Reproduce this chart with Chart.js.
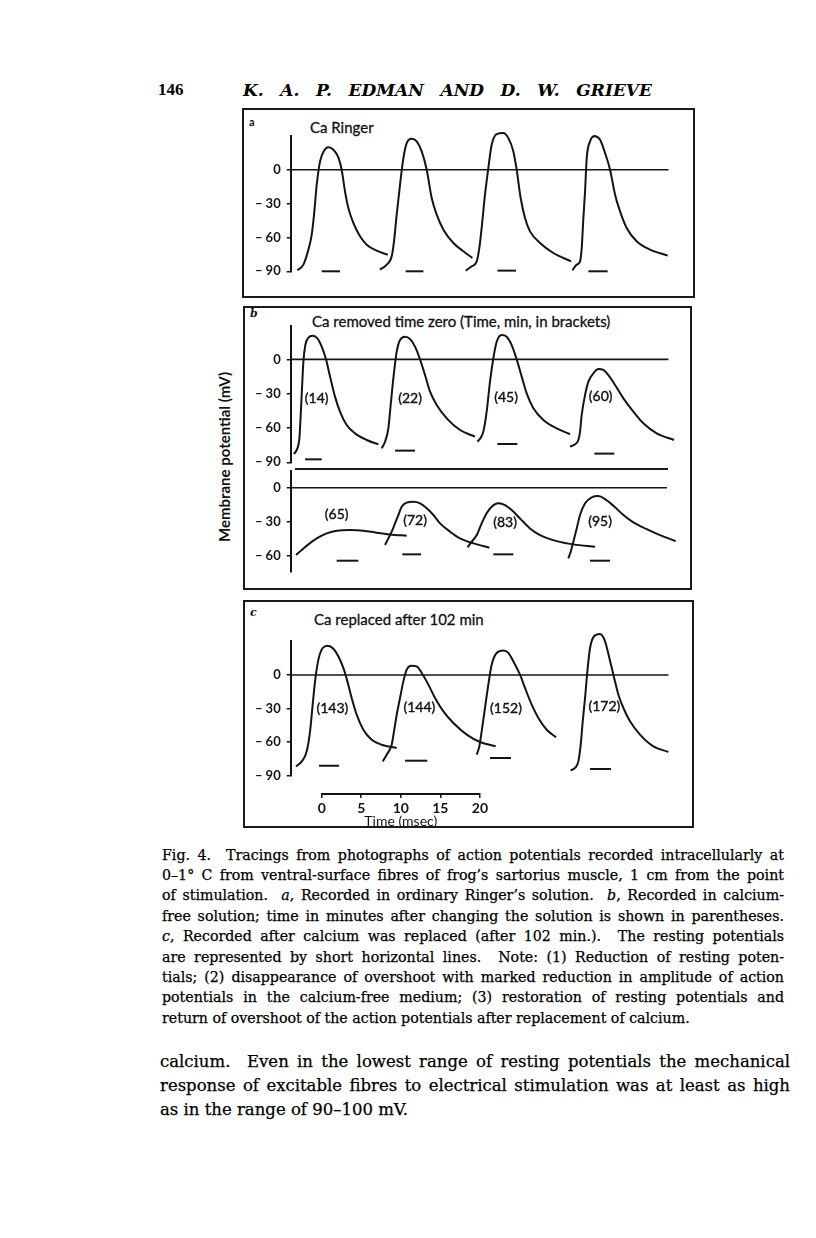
<!DOCTYPE html>
<html><head><meta charset="utf-8">
<script src="https://cdn.jsdelivr.net/npm/chart.js@4.4.1/dist/chart.umd.min.js"></script>
<style>
html,body{margin:0;padding:0;background:#fff;}
#page{position:relative;width:816px;height:1238px;overflow:hidden;background:#fff;color:#111;}
.box{position:absolute;border:2px solid #1a1a1a;box-sizing:border-box;}
canvas{position:absolute;}
.t{position:absolute;white-space:nowrap;}
.sans{font-family:Lato,'Open Sans',sans-serif;-webkit-text-stroke:0.3px #111;}
.serif{font-family:'DejaVu Serif','Liberation Serif',serif;}
.line{position:absolute;white-space:nowrap;font-family:'DejaVu Serif','Liberation Serif',serif;color:#000;-webkit-text-stroke:0.25px #000;}
</style></head>
<body><div id="page">
<div class="t" style="left:158px;top:79px;font-family:'Liberation Serif',serif;font-size:17px;line-height:22px;font-weight:bold;color:#000;">146</div>
<div class="line" id="hdr" style="left:243px;top:79px;font-size:17px;line-height:22px;font-weight:bold;font-style:italic;-webkit-text-stroke:0;">K. A. P. EDMAN AND D. W. GRIEVE</div>

<div class="box" style="left:242px;top:108px;width:453px;height:190px;"></div>
<div class="box" style="left:243px;top:306px;width:449px;height:284px;"></div>
<div class="box" style="left:243px;top:600px;width:451px;height:228px;"></div>
<div style="position:absolute;left:295px;top:468px;width:373px;height:2px;background:#1a1a1a;"></div>

<div class="t" style="left:249px;top:115px;font-family:Lato,sans-serif;font-size:11px;line-height:14px;font-weight:bold;">a</div>
<div class="t serif" style="left:250px;top:307px;font-size:11px;line-height:14px;font-weight:bold;font-style:italic;">b</div>
<div class="t serif" style="left:250px;top:606px;font-size:11px;line-height:14px;font-weight:bold;font-style:italic;">c</div>

<div class="t sans" style="left:310px;top:118px;font-size:15px;line-height:18px;">Ca Ringer</div>
<div class="t sans" style="left:312px;top:312px;font-size:15px;line-height:18px;">Ca removed time zero (Time, min, in brackets)</div>
<div class="t sans" style="left:314px;top:610px;font-size:15px;line-height:18px;">Ca replaced after 102 min</div>

<div class="t sans" style="left:224px;top:457px;font-size:15px;line-height:18px;font-weight:bold;-webkit-text-stroke:0;transform:translate(-50%,-50%) rotate(-90deg);">Membrane potential (mV)</div>

<canvas id="cA"></canvas>
<canvas id="cB1"></canvas>
<canvas id="cB2"></canvas>
<canvas id="cC"></canvas>
<canvas id="cT"></canvas>
</div>
<script>
// ---------------- DATA (time in ms, membrane potential in mV) ----------------
const yTicksFull = [0, -30, -60, -90];
const yTicksLower = [0, -30, -60];
const timeTicks = [0, 5, 10, 15, 20];

// Panel a: Ca Ringer
const aTrace1 = [[0.92,-89.1],[1.75,-84.1],[2.44,-70.8],[2.90,-57.5],[3.22,-39.8],[3.59,-13.3],[4.05,7.4],[4.60,16.8],[5.20,19.8],[5.89,17.7],[6.57,10.9],[7.03,0],[7.49,-19.2],[7.95,-33.9],[8.64,-47.2],[9.56,-59.0],[10.48,-66.4],[11.86,-71.7],[13.38,-75.3]];
const aTrace2 = [[12.32,-88.5],[13.24,-84.1],[13.93,-76.7],[14.25,-63.4],[14.62,-39.8],[15.08,-13.3],[15.54,10.3],[16.00,23.6],[16.69,27.4],[17.38,25.1],[18.07,16.2],[18.76,0],[19.45,-25.1],[20.14,-39.8],[21.06,-53.1],[22.44,-64.9],[23.82,-72.3],[25.06,-78.2]];
const aTrace3 = [[24.14,-89.4],[24.97,-85.6],[25.66,-81.2],[26.02,-69.3],[26.34,-51.6],[26.80,-22.1],[27.26,1.5],[27.72,22.1],[28.41,31.6],[29.33,32.5],[30.02,28.0],[30.71,16.2],[31.17,0],[31.72,-25.1],[32.32,-42.8],[33.01,-54.6],[34.39,-64.9],[36.23,-73.8],[38.67,-81.2]];
const aTrace4 = [[38.85,-89.1],[39.45,-84.1],[39.91,-81.2],[40.14,-69.3],[40.37,-42.8],[40.60,-19.2],[40.83,10.3],[41.29,25.1],[41.89,29.8],[42.67,26.6],[43.36,14.8],[44.05,0],[44.74,-22.1],[45.43,-36.9],[46.34,-51.6],[47.72,-63.4],[49.56,-70.8],[52.00,-76.1]];
const aRest = [[4.28,6.80,-90],[15.86,18.30,-90],[28.51,31.08,-89.4],[41.06,43.72,-90]];

// Panel b, upper row: Ca removed (14, 22, 45, 60 min)
const b1Trace1 = [[0.46,-82.7],[0.92,-77.8],[1.20,-69.0],[1.38,-48.6],[1.56,-25.3],[1.75,-2.0],[2.02,12.5],[2.44,18.9],[3.03,20.7],[3.68,18.4],[4.28,11.1],[4.87,0],[5.43,-15.1],[6.11,-32.6],[6.80,-45.7],[7.72,-57.4],[8.87,-64.7],[10.48,-70.5],[12.09,-74.3]];
const b1Trace2 = [[12.55,-77.8],[13.01,-72.0],[13.47,-60.3],[13.79,-39.9],[14.16,-16.6],[14.62,6.7],[15.08,16.9],[15.77,19.8],[16.46,17.8],[17.15,11.1],[17.84,0],[18.53,-13.7],[19.22,-28.3],[20.14,-39.9],[21.52,-51.6],[23.36,-61.8],[25.43,-67.6]];
const b1Trace3 = [[25.75,-72.0],[26.21,-68.5],[26.57,-63.2],[27.03,-45.7],[27.49,-19.5],[27.95,0.9],[28.41,15.4],[29.10,21.3],[29.79,19.8],[30.48,12.5],[31.17,0],[31.86,-15.1],[32.55,-29.7],[33.47,-42.8],[34.85,-53.0],[36.69,-60.3],[38.53,-65.5]];
const b1Trace4 = [[38.53,-76.3],[39.22,-74.3],[39.68,-70.5],[39.91,-63.2],[40.14,-48.6],[40.60,-31.2],[41.06,-19.5],[41.75,-12.2],[42.44,-8.4],[43.13,-9.3],[43.82,-13.7],[44.74,-22.4],[45.89,-34.1],[47.26,-45.7],[48.64,-55.9],[50.48,-64.7],[52.87,-70.5]];
const b1Rest = [[1.98,4.28,-87.4],[14.39,17.15,-79.8],[28.50,31.26,-74.0],[41.89,44.64,-82.4]];
const b1Labels = ['(14)','(22)','(45)','(60)'];
const b1LabelPos = [[3.59,-34.1],[16.46,-34.1],[29.70,-33.5],[42.76,-32.6]];

// Panel b, lower row: Ca removed (65, 72, 83, 95 min)
const b2Trace1 = [[0.74,-59.4],[1.52,-55.0],[2.44,-50.0],[3.59,-44.7],[4.97,-40.3],[6.34,-37.9],[8.18,-37.4],[10.02,-37.9],[11.86,-39.7],[13.70,-41.2],[16.00,-42.4]];
const b2Trace2 = [[13.01,-50.6],[13.47,-44.7],[13.93,-38.8],[14.39,-31.5],[14.85,-24.1],[15.31,-16.8],[16.00,-13.2],[16.92,-12.4],[17.84,-13.8],[18.76,-18.2],[19.68,-24.1],[20.60,-31.5],[21.98,-38.8],[23.36,-44.7],[25.20,-49.1],[27.40,-52.9]];
const b2Trace3 = [[24.41,-52.6],[24.97,-47.6],[25.66,-41.8],[26.34,-31.5],[27.03,-22.6],[27.72,-16.8],[28.64,-13.8],[29.56,-15.3],[30.48,-19.7],[31.63,-27.1],[33.01,-35.9],[34.39,-41.8],[36.69,-47.1],[38.99,-50.0],[41.98,-52.1]];
const b2Trace4 = [[38.30,-62.3],[38.62,-56.5],[38.99,-47.6],[39.45,-35.9],[39.91,-24.1],[40.60,-13.8],[41.52,-8.5],[42.44,-7.4],[43.36,-10.0],[44.51,-15.9],[45.89,-24.1],[47.26,-30.6],[49.10,-36.5],[50.94,-41.8],[53.10,-47.1]];
const b2Rest = [[6.34,9.33,-64.4],[15.40,17.98,-58.8],[27.95,30.71,-58.8],[41.29,44.05,-64.4]];
const b2Labels = ['(65)','(72)','(83)','(95)'];
const b2LabelPos = [[6.34,-23.5],[17.15,-28.5],[29.56,-30.6],[42.67,-29.4]];

// Panel c: Ca replaced (143, 144, 152, 172 min)
const cTrace1 = [[0.74,-81.7],[1.52,-77.2],[2.21,-68.2],[2.67,-50.4],[3.03,-26.5],[3.36,-5.7],[3.82,13.7],[4.41,24.1],[5.10,26.2],[5.89,23.5],[6.57,16.7],[7.26,6.3],[7.82,-5.7],[8.41,-20.6],[9.10,-35.5],[10.02,-48.9],[11.17,-57.8],[12.55,-62.3],[14.62,-65.3]];
const cTrace2 = [[12.69,-77.2],[13.24,-71.2],[13.93,-62.3],[14.25,-50.4],[14.62,-35.5],[15.08,-20.6],[15.54,-5.7],[16.00,4.8],[16.69,8.3],[17.38,7.7],[18.07,1.8],[18.99,-8.6],[19.91,-20.6],[21.06,-32.5],[22.44,-42.9],[24.28,-53.3],[26.11,-59.9],[28.28,-63.8]];
const cTrace3 = [[25.66,-71.2],[26.02,-63.8],[26.34,-50.4],[26.80,-29.5],[27.26,-8.6],[27.72,9.2],[28.41,19.7],[29.33,21.8],[30.02,19.7],[30.71,12.2],[31.63,0.3],[32.32,-11.6],[33.24,-26.5],[34.16,-38.4],[35.31,-48.9],[36.60,-55.7]];
const cTrace4 = [[38.62,-85.2],[39.22,-83.1],[39.68,-77.2],[40.00,-62.3],[40.28,-41.4],[40.60,-20.6],[40.92,3.3],[41.29,24.1],[41.84,34.6],[42.67,36.7],[43.36,30.1],[43.95,15.2],[44.51,0.3],[45.20,-17.6],[45.89,-29.5],[46.80,-41.4],[48.18,-53.3],[50.02,-63.8],[52.09,-68.8]];
const cRest = [[3.91,6.67,-81.1],[15.77,18.85,-76.6],[27.49,30.39,-74.2],[41.29,44.18,-84.0]];
const cLabels = ['(143)','(144)','(152)','(172)'];
const cLabelPos = [[5.75,-30.1],[17.75,-28.9],[29.70,-29.5],[43.26,-28.0]];

// ---------------- LAYOUT ----------------
const INK = '#141414';
const X_MAX = 53, PX_PER_MS = 7.25;

const labelPlugin = {
  id: 'traceLabels',
  afterDatasetsDraw(chart, args, opts) {
    if (!opts || !opts.texts) return;
    const ctx = chart.ctx, xs = chart.scales.x, ys = chart.scales.y;
    ctx.save();
    ctx.fillStyle = INK; ctx.strokeStyle = INK; ctx.lineWidth = 0.4;
    ctx.font = '14px Lato, "Open Sans", sans-serif';
    ctx.textAlign = 'center';
    ctx.textBaseline = 'middle';
    opts.texts.forEach((t, i) => {
      const px = xs.getPixelForValue(opts.pos[i][0]), py = ys.getPixelForValue(opts.pos[i][1]);
      ctx.fillText(t, px, py); ctx.strokeText(t, px, py);
    });
    ctx.restore();
  }
};

function makePanel(id, rect, area, yMin, yMax, yTicks, traces, rests, zeroRange, labels, labelPos) {
  const cv = document.getElementById(id);
  cv.style.left = rect.l + 'px'; cv.style.top = rect.t + 'px';
  cv.width = rect.w; cv.height = rect.h;
  cv.style.width = rect.w + 'px'; cv.style.height = rect.h + 'px';
  const datasets = [];
  datasets.push({ data: zeroRange.map(x => ({ x, y: 0 })), borderWidth: 1.6, borderColor: INK, pointRadius: 0 });
  traces.forEach(tr => datasets.push({ data: tr.map(p => ({ x: p[0], y: p[1] })), borderWidth: 2, borderColor: INK, pointRadius: 0, cubicInterpolationMode: 'monotone', clip: false }));
  rests.forEach(r => datasets.push({ data: [{ x: r[0], y: r[2] }, { x: r[1], y: r[2] }], borderWidth: 2, borderColor: INK, pointRadius: 0, clip: false }));
  const right = area.left + X_MAX * PX_PER_MS;
  new Chart(cv, {
    type: 'line',
    data: { datasets },
    options: {
      responsive: false, animation: false, devicePixelRatio: 1,
      layout: { padding: { left: 0, top: area.top - rect.t, bottom: rect.t + rect.h - area.bottom, right: rect.l + rect.w - right } },
      plugins: { legend: { display: false }, tooltip: { enabled: false }, traceLabels: { texts: labels, pos: labelPos } },
      scales: {
        x: { type: 'linear', min: 0, max: X_MAX, display: false },
        y: {
          type: 'linear', min: yMin, max: yMax,
          afterFit(s) { s.width = area.left - rect.l; },
          afterBuildTicks(s) { s.ticks = yTicks.map(v => ({ value: v })); },
          grid: { drawOnChartArea: false, drawTicks: true, tickLength: 4, color: INK, lineWidth: 1.5 },
          border: { display: true, color: INK, width: 2 },
          ticks: { color: INK, padding: 6, font: { family: 'Lato, "Open Sans", sans-serif', size: 13, weight: 'bold' },
                   callback: v => v === 0 ? '0' : '\u2013 ' + Math.abs(v) }
        }
      }
    },
    plugins: [labelPlugin]
  });
}

makePanel('cA', { l: 246, t: 112, w: 446, h: 184 }, { left: 290.7, top: 136.3, bottom: 271.3 }, -90, 29.6, yTicksFull,
  [aTrace1, aTrace2, aTrace3, aTrace4], aRest, [0, 52.1], null, null);
makePanel('cB1', { l: 246, t: 309, w: 444, h: 170 }, { left: 290.7, top: 325.7, bottom: 462.3 }, -90, 29.4, yTicksFull,
  [b1Trace1, b1Trace2, b1Trace3, b1Trace4], b1Rest, [0, 52.1], b1Labels, b1LabelPos);
makePanel('cB2', { l: 246, t: 452, w: 444, h: 136 }, { left: 290.7, top: 470.7, bottom: 571.7 }, -74.1, 15, yTicksLower,
  [b2Trace1, b2Trace2, b2Trace3, b2Trace4], b2Rest, [0.14, 51.9], b2Labels, b2LabelPos);
makePanel('cC', { l: 246, t: 622, w: 446, h: 170 }, { left: 290.7, top: 641.3, bottom: 775.7 }, -90, 30.1, yTicksFull,
  [cTrace1, cTrace2, cTrace3, cTrace4], cRest, [0, 52.1], cLabels, cLabelPos);

// time calibration bar
(function () {
  const cv = document.getElementById('cT');
  const rect = { l: 300, t: 775, w: 190, h: 55 };
  cv.style.left = rect.l + 'px'; cv.style.top = rect.t + 'px';
  cv.width = rect.w; cv.height = rect.h;
  cv.style.width = rect.w + 'px'; cv.style.height = rect.h + 'px';
  new Chart(cv, {
    type: 'line',
    data: { datasets: [{ data: [] }] },
    options: {
      responsive: false, animation: false, devicePixelRatio: 1,
      layout: { padding: { left: 21.7, right: rect.w - 166.7 - 21.7, top: 15, bottom: 0 } },
      plugins: { legend: { display: false }, tooltip: { enabled: false } },
      scales: {
        y: { display: false, min: 0, max: 1 },
        x: {
          type: 'linear', min: 0, max: 20, position: 'bottom',
          afterBuildTicks(s) { s.ticks = timeTicks.map(v => ({ value: v })); },
          afterFit(s) { s.height = 36; },
          grid: { drawOnChartArea: false, drawTicks: true, tickLength: 4, color: INK, lineWidth: 1.5 },
          border: { display: true, color: INK, width: 2 },
          ticks: { color: INK, padding: 2, maxRotation: 0, autoSkip: false, font: { family: 'Lato, "Open Sans", sans-serif', size: 14, weight: 'bold' } },
          title: { display: true, text: 'Time (msec)', color: INK, padding: { top: 0, bottom: 0 }, font: { family: 'Lato, "Open Sans", sans-serif', size: 14 } }
        }
      }
    }
  });
})();

// ---------------- TEXT ----------------
const captionLines = [
  'Fig. 4.\u00a0 Tracings from photographs of action potentials recorded intracellularly at',
  '0\u20131\u00b0 C from ventral-surface fibres of frog\u2019s sartorius muscle, 1 cm from the point',
  'of stimulation.\u00a0 <i>a</i>, Recorded in ordinary Ringer\u2019s solution.\u00a0 <i>b</i>, Recorded in calcium-',
  'free solution; time in minutes after changing the solution is shown in parentheses.',
  '<i>c</i>, Recorded after calcium was replaced (after 102 min.).\u00a0 The resting potentials',
  'are represented by short horizontal lines.\u00a0 Note: (1) Reduction of resting poten-',
  'tials; (2) disappearance of overshoot with marked reduction in amplitude of action',
  'potentials in the calcium-free medium; (3) restoration of resting potentials and',
  'return of overshoot of the action potentials after replacement of calcium.'
];
const bodyLines = [
  'calcium.\u00a0 Even in the lowest range of resting potentials the mechanical',
  'response of excitable fibres to electrical stimulation was at least as high',
  'as in the range of 90\u2013100\u00a0mV.'
];

function placeLines(lines, left, width, firstCenter, step, size, lh) {
  const page = document.getElementById('page');
  lines.forEach((txt, i) => {
    const d = document.createElement('div');
    d.className = 'line';
    d.style.left = left + 'px';
    d.style.fontSize = size + 'px';
    d.style.lineHeight = lh + 'px';
    d.style.top = (firstCenter + i * step - lh / 2) + 'px';
    d.innerHTML = txt;
    page.appendChild(d);
    if (i < lines.length - 1) fit(d, width);
  });
}
function fit(el, width) {
  const nat = el.getBoundingClientRect().width;
  const spaces = (el.textContent.match(/[ \u00a0]/g) || []).length;
  if (spaces > 0) el.style.wordSpacing = ((width - nat) / spaces) + 'px';
}
placeLines(captionLines, 162, 622, 855, 20.4, 14.2, 19);
placeLines(bodyLines, 160, 630, 1062, 24, 16.5, 22);
fit(document.getElementById('hdr'), 409);
</script>
</body></html>
